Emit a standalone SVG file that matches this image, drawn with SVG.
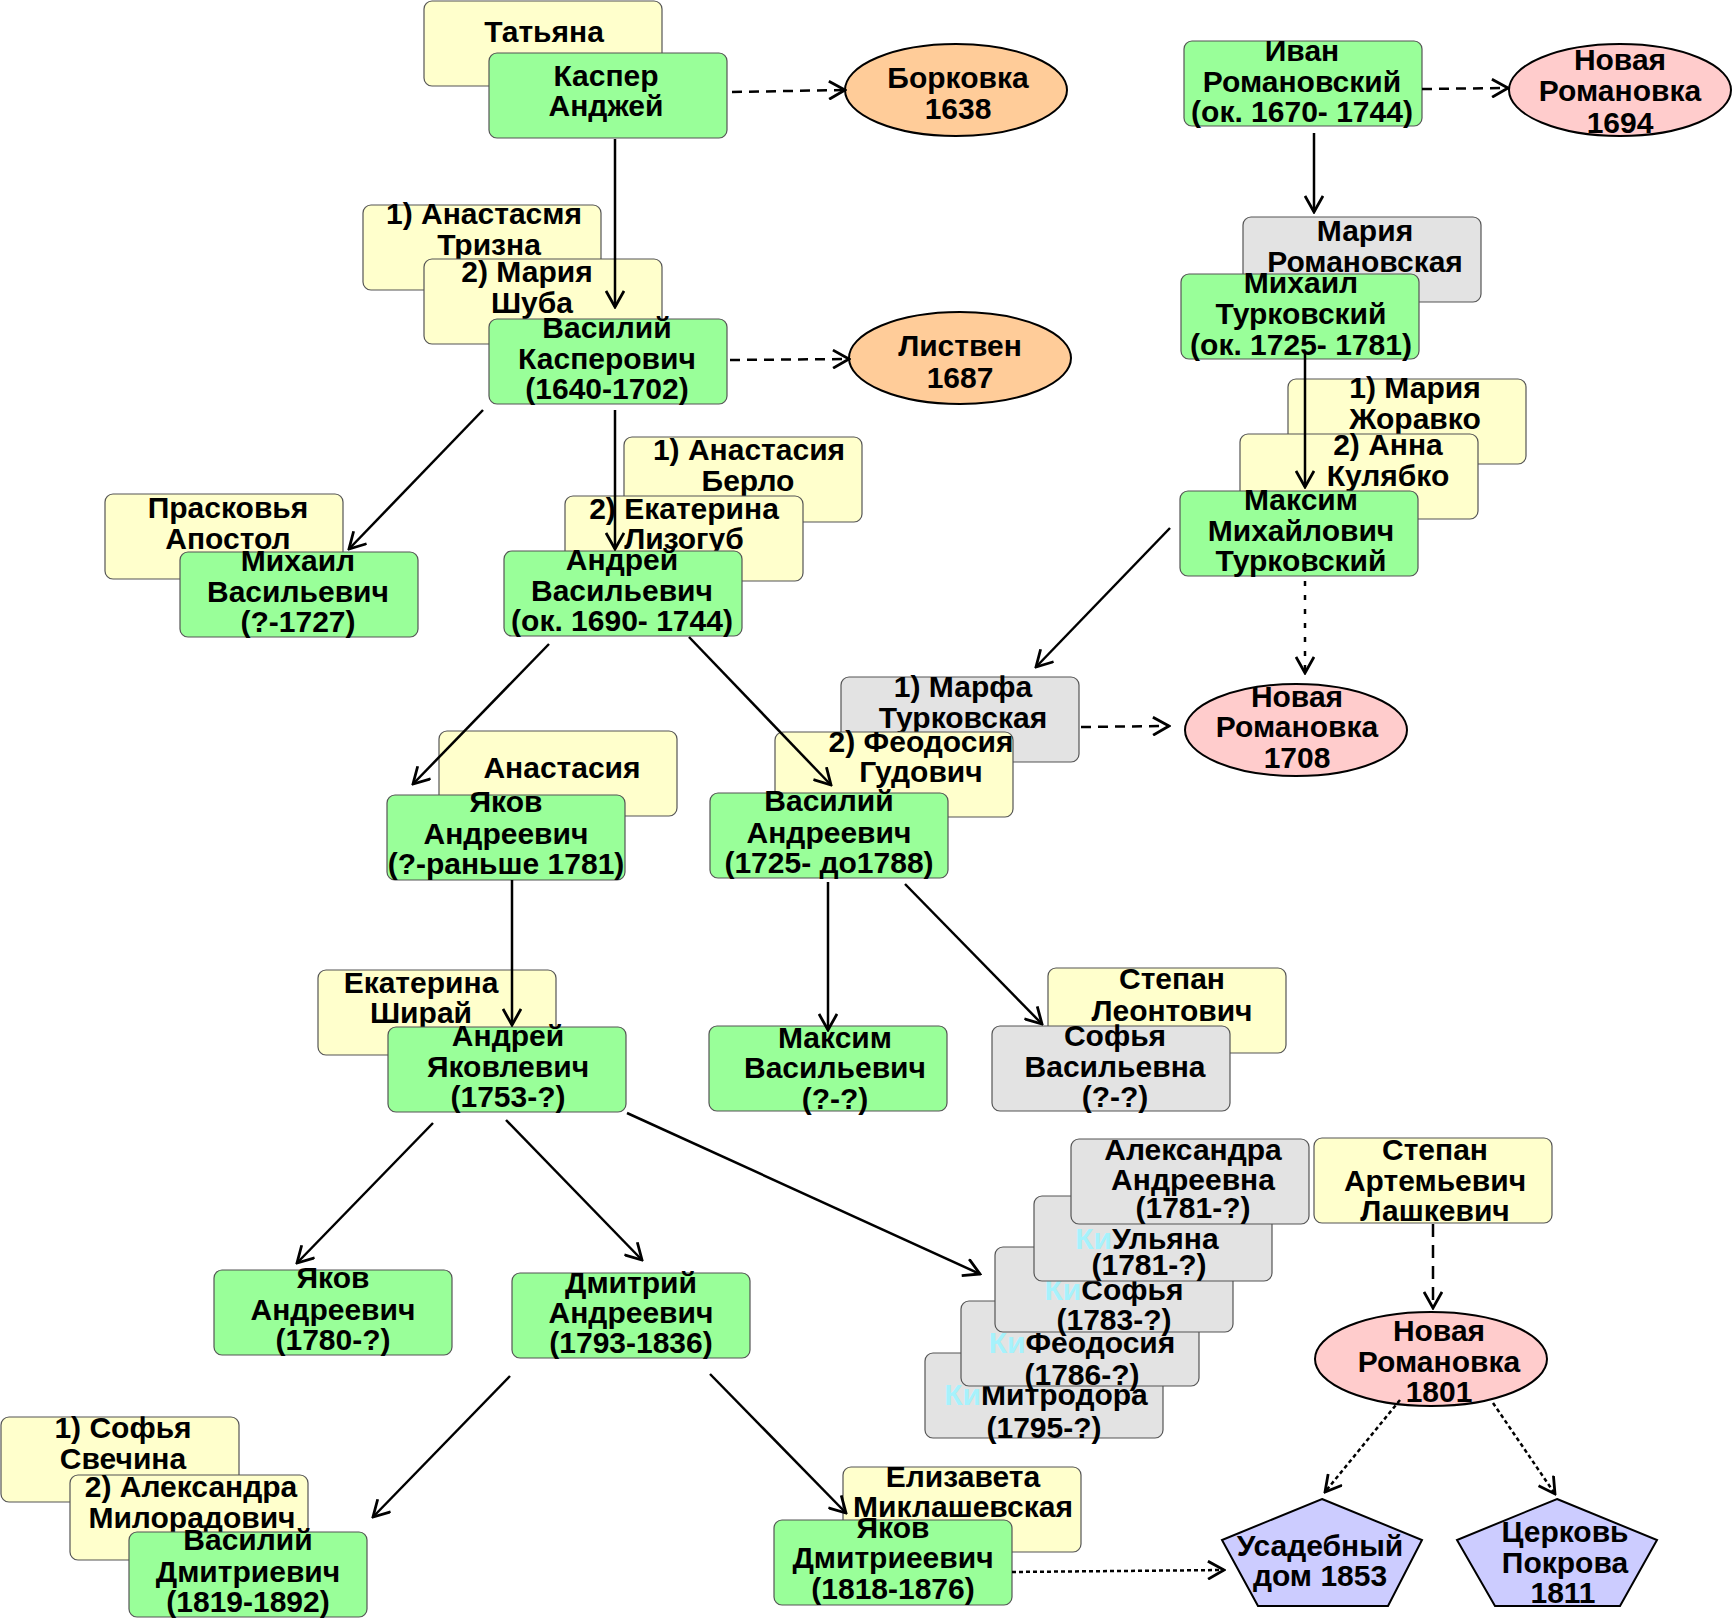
<svg xmlns="http://www.w3.org/2000/svg" width="1733" height="1619" viewBox="0 0 1733 1619">
<style>
.g{fill:#99FF99;stroke:#555;stroke-width:1.2}
.y{fill:#FFFFCC;stroke:#555;stroke-width:1.2}
.s{fill:#E3E3E3;stroke:#555;stroke-width:1.2}
.o{fill:#FFCC99;stroke:#000;stroke-width:2}
.p{fill:#FFCCCC;stroke:#000;stroke-width:2}
.v{fill:#CCCCFF;stroke:#000;stroke-width:2}
text{font-family:"Liberation Sans",Arial,sans-serif;font-weight:bold;font-size:30px;fill:#000;text-anchor:middle}
.ki{fill:#A6F2FC}
.ln{fill:none;stroke:#000;stroke-width:2.5;marker-end:url(#ah)}
.da{stroke-dasharray:10 7}
.dl{stroke-dasharray:13 8}
.dt{stroke-dasharray:4 3}
.ds{stroke-dasharray:5 9}
</style>
<defs>
<marker id="ah" markerUnits="userSpaceOnUse" markerWidth="20" markerHeight="20" viewBox="0 0 20 20" refX="18" refY="10" orient="auto">
<path d="M2,1 L18,10 L2,19" fill="none" stroke="#000" stroke-width="2.8"/>
</marker>
</defs>
<rect width="1733" height="1619" fill="#fff"/>

<g id="tatyana"><rect class="y" x="424" y="1" width="238" height="85" rx="8"/><text x="544" y="42">Татьяна</text></g>
<g id="kasper"><rect class="g" x="489" y="53" width="238" height="85" rx="8"/><text><tspan x="606" y="86">Каспер</tspan><tspan x="606" y="116">Анджей</tspan></text></g>
<g id="borkovka"><ellipse class="o" cx="956" cy="90" rx="111" ry="46"/><text><tspan x="958" y="88">Борковка</tspan><tspan x="958" y="119">1638</tspan></text></g>

<g id="anastasmya"><rect class="y" x="363" y="205" width="238" height="85" rx="8"/><text><tspan x="484" y="224">1) Анастасмя</tspan><tspan x="489" y="255">Тризна</tspan></text></g>
<g id="mariya-shuba"><rect class="y" x="424" y="259" width="238" height="85" rx="8"/><text><tspan x="527" y="282">2) Мария</tspan><tspan x="532" y="313">Шуба</tspan></text></g>
<g id="vasily-k"><rect class="g" x="489" y="319" width="238" height="85" rx="8"/><text><tspan x="607" y="338">Василий</tspan><tspan x="607" y="369">Касперович</tspan><tspan x="607" y="399">(1640-1702)</tspan></text></g>
<g id="listven"><ellipse class="o" cx="960" cy="358" rx="111" ry="46"/><text><tspan x="960" y="356">Листвен</tspan><tspan x="960" y="388">1687</tspan></text></g>

<g id="praskovya"><rect class="y" x="105" y="494" width="238" height="85" rx="8"/><text><tspan x="228" y="518">Прасковья</tspan><tspan x="228" y="549">Апостол</tspan></text></g>
<g id="mikhail-v"><rect class="g" x="180" y="552" width="238" height="85" rx="8"/><text><tspan x="298" y="571">Михаил</tspan><tspan x="298" y="602">Васильевич</tspan><tspan x="298" y="632">(?-1727)</tspan></text></g>

<g id="anastasiya-berlo"><rect class="y" x="624" y="437" width="238" height="85" rx="8"/><text><tspan x="749" y="460">1) Анастасия</tspan><tspan x="748" y="491">Берло</tspan></text></g>
<g id="ekaterina-lizogub"><rect class="y" x="565" y="496" width="238" height="85" rx="8"/><text><tspan x="684" y="519">2) Екатерина</tspan><tspan x="684" y="549">Лизогуб</tspan></text></g>
<g id="andrey-v"><rect class="g" x="504" y="551" width="238" height="85" rx="8"/><text><tspan x="622" y="570">Андрей</tspan><tspan x="622" y="601">Васильевич</tspan><tspan x="622" y="631">(ок. 1690- 1744)</tspan></text></g>

<g id="ivan"><rect class="g" x="1184" y="41" width="238" height="85" rx="8"/><text><tspan x="1302" y="61">Иван</tspan><tspan x="1302" y="92">Романовский</tspan><tspan x="1302" y="122">(ок. 1670- 1744)</tspan></text></g>
<g id="nr1694"><ellipse class="p" cx="1620" cy="90" rx="111" ry="46"/><text><tspan x="1620" y="70">Новая</tspan><tspan x="1620" y="101">Романовка</tspan><tspan x="1620" y="133">1694</tspan></text></g>
<g id="mariya-rom"><rect class="s" x="1243" y="217" width="238" height="85" rx="8"/><text><tspan x="1365" y="241">Мария</tspan><tspan x="1365" y="272">Романовская</tspan></text></g>
<g id="mikhail-t"><rect class="g" x="1181" y="274" width="238" height="85" rx="8"/><text><tspan x="1301" y="293">Михаил</tspan><tspan x="1301" y="324">Турковский</tspan><tspan x="1301" y="355">(ок. 1725- 1781)</tspan></text></g>
<g id="zhoravko"><rect class="y" x="1288" y="379" width="238" height="85" rx="8"/><text><tspan x="1415" y="398">1) Мария</tspan><tspan x="1415" y="429">Жоравко</tspan></text></g>
<g id="kulyabko"><rect class="y" x="1240" y="434" width="238" height="85" rx="8"/><text><tspan x="1388" y="455">2) Анна</tspan><tspan x="1388" y="486">Кулябко</tspan></text></g>
<g id="maksim-m"><rect class="g" x="1180" y="491" width="238" height="85" rx="8"/><text><tspan x="1301" y="510">Максим</tspan><tspan x="1301" y="541">Михайлович</tspan><tspan x="1301" y="571">Турковский</tspan></text></g>
<g id="nr1708"><ellipse class="p" cx="1296" cy="730" rx="111" ry="46"/><text><tspan x="1297" y="707">Новая</tspan><tspan x="1297" y="737">Романовка</tspan><tspan x="1297" y="768">1708</tspan></text></g>

<g id="marfa"><rect class="s" x="841" y="677" width="238" height="85" rx="8"/><text><tspan x="963" y="697">1) Марфа</tspan><tspan x="963" y="728">Турковская</tspan></text></g>
<g id="feodosiya-g"><rect class="y" x="775" y="732" width="238" height="85" rx="8"/><text><tspan x="921" y="752">2) Феодосия</tspan><tspan x="921" y="782">Гудович</tspan></text></g>
<g id="vasily-a"><rect class="g" x="710" y="793" width="238" height="85" rx="8"/><text><tspan x="829" y="811">Василий</tspan><tspan x="829" y="843">Андреевич</tspan><tspan x="829" y="873">(1725- до1788)</tspan></text></g>

<g id="anastasiya"><rect class="y" x="439" y="731" width="238" height="85" rx="8"/><text x="562" y="778">Анастасия</text></g>
<g id="yakov-a"><rect class="g" x="387" y="795" width="238" height="85" rx="8"/><text><tspan x="506" y="812">Яков</tspan><tspan x="506" y="844">Андреевич</tspan><tspan x="506" y="874">(?-раньше 1781)</tspan></text></g>

<g id="ekaterina-shiray"><rect class="y" x="318" y="970" width="238" height="85" rx="8"/><text><tspan x="421" y="993">Екатерина</tspan><tspan x="421" y="1023">Ширай</tspan></text></g>
<g id="andrey-ya"><rect class="g" x="388" y="1027" width="238" height="85" rx="8"/><text><tspan x="508" y="1046">Андрей</tspan><tspan x="508" y="1077">Яковлевич</tspan><tspan x="508" y="1107">(1753-?)</tspan></text></g>
<g id="maksim-v"><rect class="g" x="709" y="1026" width="238" height="85" rx="8"/><text><tspan x="835" y="1048">Максим</tspan><tspan x="835" y="1078">Васильевич</tspan><tspan x="835" y="1109">(?-?)</tspan></text></g>
<g id="stepan-l"><rect class="y" x="1048" y="968" width="238" height="85" rx="8"/><text><tspan x="1172" y="989">Степан</tspan><tspan x="1172" y="1021">Леонтович</tspan></text></g>
<g id="sofya-v"><rect class="s" x="992" y="1026" width="238" height="85" rx="8"/><text><tspan x="1115" y="1046">Софья</tspan><tspan x="1115" y="1077">Васильевна</tspan><tspan x="1115" y="1107">(?-?)</tspan></text></g>

<g id="mitrodora"><rect class="s" x="925" y="1353" width="238" height="85" rx="8"/><text><tspan x="1046" y="1405"><tspan class="ki">Ки</tspan>Митродора</tspan><tspan x="1044" y="1438">(1795-?)</tspan></text></g>
<g id="feodosiya-a"><rect class="s" x="961" y="1301" width="238" height="85" rx="8"/><text><tspan x="1082" y="1353"><tspan class="ki">Ки</tspan>Феодосия</tspan><tspan x="1082" y="1385">(1786-?)</tspan></text></g>
<g id="sofya-a"><rect class="s" x="995" y="1247" width="238" height="85" rx="8"/><text><tspan x="1114" y="1300"><tspan class="ki">Ки</tspan>Софья</tspan><tspan x="1114" y="1330">(1783-?)</tspan></text></g>
<g id="ulyana"><rect class="s" x="1034" y="1196" width="238" height="85" rx="8"/><text><tspan x="1147" y="1249"><tspan class="ki">Ки</tspan>Ульяна</tspan><tspan x="1149" y="1275">(1781-?)</tspan></text></g>
<g id="aleksandra-a"><rect class="s" x="1071" y="1139" width="238" height="85" rx="8"/><text><tspan x="1193" y="1160">Александра</tspan><tspan x="1193" y="1190">Андреевна</tspan><tspan x="1193" y="1218">(1781-?)</tspan></text></g>

<g id="stepan-al"><rect class="y" x="1314" y="1138" width="238" height="85" rx="8"/><text><tspan x="1435" y="1160">Степан</tspan><tspan x="1435" y="1191">Артемьевич</tspan><tspan x="1435" y="1221">Лашкевич</tspan></text></g>
<g id="nr1801"><ellipse class="p" cx="1431" cy="1359" rx="116" ry="47"/><text><tspan x="1439" y="1341">Новая</tspan><tspan x="1439" y="1372">Романовка</tspan><tspan x="1439" y="1402">1801</tspan></text></g>

<g id="yakov-1780"><rect class="g" x="214" y="1270" width="238" height="85" rx="8"/><text><tspan x="333" y="1288">Яков</tspan><tspan x="333" y="1320">Андреевич</tspan><tspan x="333" y="1350">(1780-?)</tspan></text></g>
<g id="dmitry"><rect class="g" x="512" y="1273" width="238" height="85" rx="8"/><text><tspan x="631" y="1293">Дмитрий</tspan><tspan x="631" y="1323">Андреевич</tspan><tspan x="631" y="1353">(1793-1836)</tspan></text></g>

<g id="sofya-s"><rect class="y" x="1" y="1417" width="238" height="85" rx="8"/><text><tspan x="123" y="1438">1) Софья</tspan><tspan x="123" y="1469">Свечина</tspan></text></g>
<g id="aleksandra-m"><rect class="y" x="70" y="1475" width="238" height="85" rx="8"/><text><tspan x="191" y="1497">2) Александра</tspan><tspan x="192" y="1528">Милорадович</tspan></text></g>
<g id="vasily-d"><rect class="g" x="129" y="1532" width="238" height="85" rx="8"/><text><tspan x="248" y="1550">Василий</tspan><tspan x="248" y="1582">Дмитриевич</tspan><tspan x="248" y="1612">(1819-1892)</tspan></text></g>

<g id="elizaveta"><rect class="y" x="843" y="1467" width="238" height="85" rx="8"/><text><tspan x="963" y="1487">Елизавета</tspan><tspan x="963" y="1517">Миклашевская</tspan></text></g>
<g id="yakov-d"><rect class="g" x="774" y="1520" width="238" height="85" rx="8"/><text><tspan x="893" y="1538">Яков</tspan><tspan x="893" y="1568">Дмитриеевич</tspan><tspan x="893" y="1599">(1818-1876)</tspan></text></g>

<g id="usadebny"><polygon class="v" points="1322,1499 1422,1540 1388,1606 1258,1606 1222,1540"/><text><tspan x="1320" y="1556">Усадебный</tspan><tspan x="1320" y="1586">дом 1853</tspan></text></g>
<g id="tserkov"><polygon class="v" points="1557,1499 1657,1540 1620,1606 1495,1606 1457,1540"/><text><tspan x="1565" y="1542">Церковь</tspan><tspan x="1565" y="1573">Покрова</tspan><tspan x="1563" y="1603">1811</tspan></text></g>

<g id="connectors">
<path class="ln" d="M615,139 L615,307"/>
<path class="ln" d="M483,410 L349,549"/>
<path class="ln" d="M615,410 L615,549"/>
<path class="ln" d="M1314,133 L1314,212"/>
<path class="ln" d="M1305,352 L1305,487"/>
<path class="ln" d="M1170,528 L1036,667"/>
<path class="ln" d="M549,644 L413,784"/>
<path class="ln" d="M689,637 L831,785"/>
<path class="ln" d="M512,880 L512,1025"/>
<path class="ln" d="M828,882 L828,1030"/>
<path class="ln" d="M905,884 L1042,1024"/>
<path class="ln" d="M433,1123 L297,1263"/>
<path class="ln" d="M506,1120 L642,1260"/>
<path class="ln" d="M627,1113 L980,1274"/>
<path class="ln" d="M510,1376 L373,1517"/>
<path class="ln" d="M710,1374 L846,1513"/>
<path class="ln da" d="M732,92 L845,90"/>
<path class="ln da" d="M730,360 L849,359"/>
<path class="ln da" d="M1422,89 L1508,88"/>
<path class="ln da" d="M1081,727 L1169,726"/>
<path class="ln dl" d="M1433,1224 L1433,1308"/>
<path class="ln ds" d="M1305,553 L1305,673"/>
<path class="ln dt" d="M1400,1400 L1325,1492"/>
<path class="ln dt" d="M1493,1403 L1555,1494"/>
<path class="ln dt" d="M1012,1572 L1224,1570"/>
</g>
</svg>
